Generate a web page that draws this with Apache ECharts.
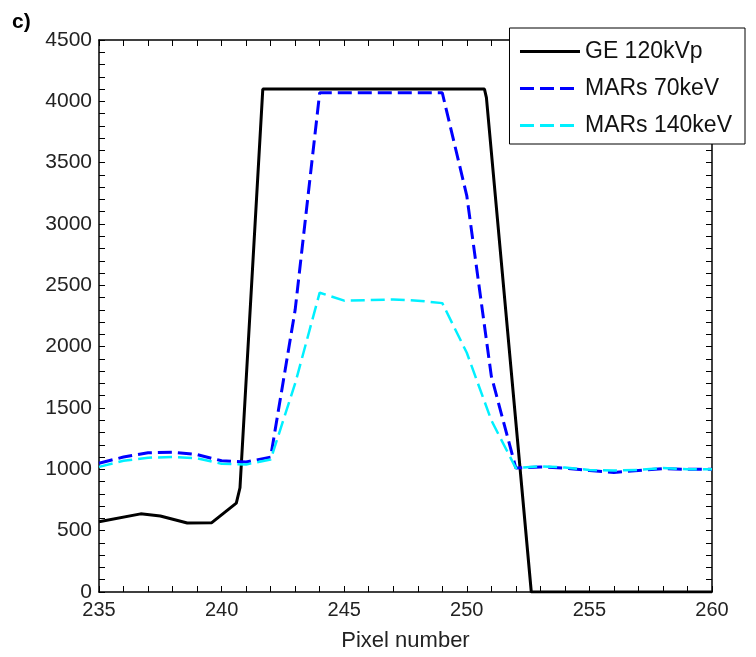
<!DOCTYPE html>
<html>
<head>
<meta charset="utf-8">
<script src="https://cdn.jsdelivr.net/npm/echarts@6/dist/echarts.min.js"></script>
<style>
html,body{margin:0;padding:0;background:#fff;}
#chart{width:756px;height:657px;}
</style>
</head>
<body>
<div id="chart"></div>
<script>
// GE 120kVp (x in pixel number, y value)
var geX = [235, 236.7, 237.5, 238.6, 239.6, 240.6, 240.75, 241.68, 250.72, 250.8, 252.63, 253, 260];
var geY = [572, 637, 620, 562, 565, 725, 850, 4100, 4100, 4030, 0, 0, 0];
// MARs series sampled at integer pixel numbers
var marsX = [235, 236, 237, 238, 239, 240, 241, 242, 243, 244, 245, 246, 247, 248, 249, 250, 251, 252, 253, 254, 255, 256, 257, 258, 259, 260];
var mars70 = [1050, 1100, 1135, 1140, 1120, 1070, 1060, 1100, 2300, 4070, 4070, 4070, 4070, 4070, 4070, 3230, 1760, 1010, 1020, 1010, 990, 975, 990, 1005, 1000, 1000];
var mars140 = [1020, 1070, 1095, 1100, 1090, 1045, 1040, 1080, 1700, 2440, 2375, 2380, 2385, 2375, 2355, 1950, 1400, 1010, 1025, 1015, 995, 990, 995, 1010, 1000, 1000];
var seriesNames = ['GE 120kVp', 'MARs 70keV', 'MARs 140keV'];
var xTicks = [235, 260, 5];
var yTicks = [0, 4500, 500];

function pairs(xs, ys) { return xs.map(function (x, i) { return [x, ys[i]]; }); }

var font = 'Liberation Sans, Arial, sans-serif';
var chart = echarts.init(document.getElementById('chart'), null, {renderer: 'canvas'});

function axisCommon(showLabel) {
  return {
    axisLine: {show: true, onZero: false, lineStyle: {color: '#000', width: 1.5}},
    axisTick: {show: true, inside: true, length: 6, lineStyle: {color: '#000', width: 1}},
    minorTick: {show: true, splitNumber: 5, length: 6, lineStyle: {color: '#000', width: 1}},
    splitLine: {show: false},
    axisLabel: {show: showLabel, color: '#222', fontSize: 20, fontFamily: font,
      formatter: function (v) { return String(v); }}
  };
}

var xBottom = Object.assign(axisCommon(true), {
  type: 'value', min: xTicks[0], max: xTicks[1], interval: xTicks[2], position: 'bottom',
  name: 'Pixel number', nameLocation: 'middle', nameGap: 38,
  nameTextStyle: {color: '#222', fontSize: 22, fontFamily: font}
});
xBottom.axisLabel.margin = 8;
var xTop = Object.assign(axisCommon(false), {
  type: 'value', min: xTicks[0], max: xTicks[1], interval: xTicks[2], position: 'top'
});
var yLeft = Object.assign(axisCommon(true), {
  type: 'value', min: yTicks[0], max: yTicks[1], interval: yTicks[2], position: 'left'
});
yLeft.axisLabel.margin = 7;
yLeft.axisLabel.fontSize = 21;
var yRight = Object.assign(axisCommon(false), {
  type: 'value', min: yTicks[0], max: yTicks[1], interval: yTicks[2], position: 'right'
});

var option = {
  animation: false,
  backgroundColor: '#fff',
  grid: {left: 99, right: 44, top: 40, bottom: 64, containLabel: false},
  xAxis: [xBottom, xTop],
  yAxis: [yLeft, yRight],
  graphic: [{
    type: 'text', left: 12, top: 12,
    style: {text: 'c)', fill: '#000', font: 'bold 21px ' + font}
  }],
  legend: {
    right: 11, top: 28, orient: 'vertical',
    backgroundColor: '#fff', borderColor: '#000', borderWidth: 1,
    padding: [12, 13, 7, 9],
    itemWidth: 60, itemHeight: 22, itemGap: 14,
    itemStyle: {opacity: 0},
    lineStyle: {width: 3},
    textStyle: {color: '#111', fontSize: 23, fontFamily: font},
    data: [
      {name: seriesNames[0]},
      {name: seriesNames[1], lineStyle: {type: [14, 6], width: 3}},
      {name: seriesNames[2], lineStyle: {type: [14, 6], width: 3}}
    ]
  },
  series: [
    {
      name: seriesNames[0], type: 'line', xAxisIndex: 0, yAxisIndex: 0,
      data: pairs(geX, geY), symbol: 'none', clip: true,
      lineStyle: {color: '#000', width: 3}, itemStyle: {color: '#000'}
    },
    {
      name: seriesNames[1], type: 'line', xAxisIndex: 0, yAxisIndex: 0,
      data: pairs(marsX, mars70), symbol: 'none',
      lineStyle: {color: '#0000ff', width: 3, type: [14, 6]}, itemStyle: {color: '#0000ff'}
    },
    {
      name: seriesNames[2], type: 'line', xAxisIndex: 0, yAxisIndex: 0,
      data: pairs(marsX, mars140), symbol: 'none',
      lineStyle: {color: '#00f0ff', width: 2.5, type: [14, 6]}, itemStyle: {color: '#00f0ff'}
    }
  ]
};
chart.setOption(option);
</script>
</body>
</html>
